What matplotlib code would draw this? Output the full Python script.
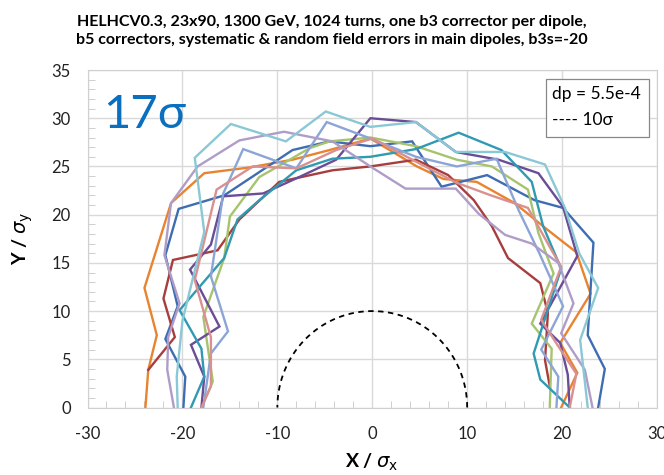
import numpy as np
import matplotlib
matplotlib.use('Agg')
import matplotlib.pyplot as plt
from matplotlib.patches import Rectangle
from matplotlib.ticker import MultipleLocator

plt.rcParams['font.family'] = ['Lato', 'DejaVu Sans']
plt.rcParams['axes.unicode_minus'] = False

TITLE = ('HELHCV0.3, 23x90, 1300 GeV, 1024 turns, one b3 corrector per dipole,\n'
         'b5 correctors, systematic & random field errors in main dipoles, b3s=-20')

# dynamic aperture per seed, (x, y) in beam sigma
seeds = {
    'orange': ([-23.9, -23.6, -22.7, -24.0, -21.2, -17.7, -12.9, -8.4, -4.5, -0.2, 4.7, 7.5, 11.0, 15.0, 18.5, 21.5, 23.0, 19.8, 21.6, 19.9],
               [0, 3.9, 7.5, 12.4, 21.2, 24.3, 24.9, 25.7, 26.7, 27.9, 25.0, 23.7, 23.4, 21.2, 18.4, 16.1, 11.8, 6.7, 3.6, 0]),
    'blue': ([-19.9, -19.7, -21.8, -20.5, -21.8, -20.4, -15.6, -8.4, -4.5, -0.2, 4.2, 7.3, 12.1, 17.1, 20.1, 23.3, 22.7, 24.5, 23.8],
             [0, 3.2, 7.1, 10.5, 15.8, 20.6, 22.0, 26.7, 27.6, 27.1, 27.6, 22.9, 24.1, 21.5, 20.7, 17.1, 7.5, 4.0, 0]),
    'red': ([-23.6, -20.8, -22.0, -21.0, -16.3, -14.0, -9.8, -4.2, -0.2, 4.6, 8.0, 10.7, 12.6, 14.3, 17.7, 18.5, 18.2, 18.7],
            [3.9, 7.3, 11.3, 15.3, 16.3, 19.5, 23.4, 24.6, 25.0, 25.7, 24.1, 21.5, 18.8, 15.5, 12.9, 9.8, 4.9, 2.2]),
    'green': ([-18.0, -16.8, -17.8, -15.6, -15.0, -11.9, -9.4, -6.6, -4.5, -0.2, 4.6, 8.9, 12.6, 16.4, 17.5, 19.1, 16.8, 18.9, 18.7],
              [0, 2.7, 9.4, 15.5, 19.8, 23.9, 25.3, 26.9, 27.6, 28.0, 27.1, 25.7, 25.0, 22.6, 18.1, 13.9, 8.7, 6.1, 0]),
    'purple': ([-18.0, -17.7, -19.1, -16.1, -19.2, -17.0, -15.7, -11.5, -7.7, -3.8, -0.2, 4.6, 8.8, 13.3, 17.5, 20.1, 21.6, 17.7, 19.8, 20.6, 20.8],
               [0, 3.2, 6.5, 8.4, 14.3, 16.9, 21.9, 22.2, 23.9, 25.7, 30.0, 29.6, 26.5, 25.7, 24.3, 20.8, 15.7, 8.7, 6.7, 3.4, 0]),
    'teal': ([-19.1, -17.7, -18.0, -20.3, -15.6, -14.2, -11.9, -8.0, -4.2, -0.2, 4.6, 9.1, 13.6, 16.8, 18.0, 19.9, 17.0, 17.7, 20.8],
             [0, 3.2, 6.1, 10.1, 15.5, 19.5, 21.5, 24.6, 25.8, 26.0, 26.8, 28.5, 26.7, 23.4, 18.8, 14.4, 5.6, 2.9, 0]),
    'lightblue': ([-17.8, -17.0, -15.2, -17.0, -15.7, -13.6, -8.0, -4.8, -0.2, 4.6, 8.9, 13.1, 15.4, 17.6, 20.1, 17.8, 19.6, 19.4],
                  [0, 5.6, 7.9, 13.6, 22.2, 26.8, 24.8, 29.6, 27.9, 26.0, 25.0, 25.8, 20.5, 16.0, 10.5, 6.0, 3.2, 0]),
    'pink': ([-18.0, -17.0, -17.0, -18.7, -16.4, -12.6, -8.0, -3.8, 0.0, 4.6, 8.9, 12.5, 16.4, 18.9, 19.9, 17.8, 19.5, 21.5, 20.8],
             [0, 2.2, 7.3, 13.2, 22.6, 25.0, 24.8, 26.7, 27.9, 25.5, 23.3, 22.0, 20.7, 16.3, 14.6, 9.1, 6.5, 3.5, 0]),
    'lightpurple': ([-20.9, -21.6, -21.5, -20.3, -21.9, -21.2, -18.4, -14.0, -9.3, -4.2, -0.2, 3.5, 8.8, 11.2, 14.0, 16.8, 19.6, 21.2, 19.9, 22.4, 23.2],
                    [0, 3.9, 7.3, 10.8, 15.8, 21.2, 25.0, 27.7, 28.6, 27.6, 25.0, 22.7, 22.7, 20.1, 17.9, 17.0, 15.0, 10.8, 7.7, 3.9, 0]),
    'lightcyan': ([-20.5, -20.6, -20.0, -17.7, -18.7, -14.9, -9.1, -4.9, -0.2, 4.6, 8.8, 14.0, 18.2, 20.3, 21.8, 23.8, 21.9, 22.7],
                  [0, 3.2, 9.0, 18.2, 25.9, 29.4, 27.6, 30.7, 29.1, 29.6, 26.5, 26.5, 25.2, 20.7, 16.0, 12.4, 7.0, 0]),
}
colors = {
    'orange': '#E8832F', 'blue': '#3E6EB1', 'red': '#A83D3D', 'green': '#A6C46E',
    'purple': '#6A4C97', 'teal': '#2F9AB2', 'lightblue': '#8BA5D6', 'pink': '#D9908F',
    'lightpurple': '#AF9DC8', 'lightcyan': '#8BC8D6',
}
R_REF = 10  # 10 sigma reference circle

fig = plt.figure(figsize=(6.64, 4.75), dpi=100)
ax = fig.add_axes([0.1318, 0.1421, 0.8577, 0.7105])

for name, (xs, ys) in seeds.items():
    ax.plot(xs, ys, '-', color=colors[name], lw=1.7, solid_joinstyle='miter')

th = np.linspace(0, np.pi, 200)
ax.plot(R_REF * np.cos(th), R_REF * np.sin(th), '--', color='black', lw=1.3, dashes=(3, 2.5))

ax.set_xlim(-30, 30)
ax.set_ylim(0, 35)
ax.xaxis.set_major_locator(MultipleLocator(10))
ax.yaxis.set_major_locator(MultipleLocator(5))
ax.xaxis.set_minor_locator(MultipleLocator(2))
ax.yaxis.set_minor_locator(MultipleLocator(1))
ax.grid(True, which='major', color='#D9D9D9', lw=1.0)
ax.set_axisbelow(True)
for s in ax.spines.values():
    s.set_color('#D0D0D0')
ax.tick_params(which='both', direction='in', color='#C8C8C8', labelcolor='#222222',
               labelsize=12, top=False, right=False)
ax.tick_params(which='major', length=0, pad=13)
ax.tick_params(which='minor', length=5)
ax.tick_params(axis='y', which='major', pad=12)

ax.set_xlabel(r'X / $\sigma_\mathrm{x}$', fontsize=14, fontweight='bold', labelpad=7)
ax.set_ylabel(r'Y / $\sigma_\mathrm{y}$', fontsize=14, fontweight='bold', labelpad=12)

fig.text(0.5, 0.935, TITLE, ha='center', va='center', fontsize=11.5, fontweight='bold',
         linespacing=1.3)

ax.text(-28.4, 30.3, '17σ', color='#0A6FBE', fontsize=34, va='center', ha='left')

ax.add_patch(Rectangle((0.805, 0.8006), 0.181, 0.1718, transform=ax.transAxes,
                       fc='white', ec='#888888', lw=0.9, zorder=5))
ax.text(0.815, 0.9286, 'dp = 5.5e-4', transform=ax.transAxes, ha='left', va='center',
        fontsize=12.5, zorder=6)
ax.text(0.815, 0.852, '---- 10σ', transform=ax.transAxes, ha='left', va='center',
        fontsize=12.5, zorder=6)

fig.savefig('out.png', dpi=100)
